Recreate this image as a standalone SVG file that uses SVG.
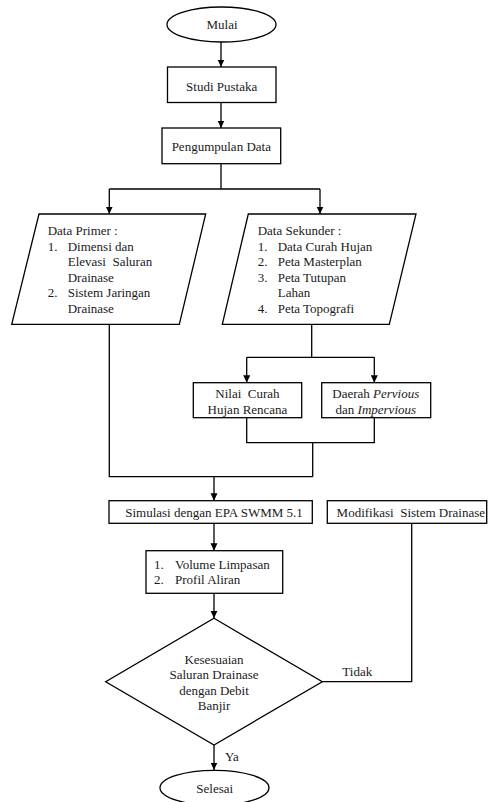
<svg xmlns="http://www.w3.org/2000/svg" width="489" height="802" viewBox="0 0 489 802">
<style>
.s{fill:#fff;stroke:#000;stroke-width:1.3}
.c{fill:none;stroke:#000;stroke-width:1.3}
text{font-family:"Liberation Serif","Times New Roman",serif;font-size:13px;fill:#1a1a1a}
.m{text-anchor:middle}
</style>
<defs>
<marker id="ar" markerUnits="userSpaceOnUse" markerWidth="8" markerHeight="8" refX="7.5" refY="3.5" orient="auto">
<path d="M0,0 L7.5,3.5 L0,7 z" fill="#000"/>
</marker>
</defs>
<rect width="489" height="802" fill="#fff"/>
<g id="connectors">
<path class="c" d="M221,42 V67" marker-end="url(#ar)"/>
<path class="c" d="M221,102.5 V128" marker-end="url(#ar)"/>
<path class="c" d="M221,163.7 V189 M109.3,189 H320"/>
<path class="c" d="M109.3,189 V214" marker-end="url(#ar)"/>
<path class="c" d="M320,189 V214" marker-end="url(#ar)"/>
<path class="c" d="M109.3,324.3 V476.7 H312.7"/>
<path class="c" d="M311.7,324.3 V357.3 M246.7,357.3 H374.3"/>
<path class="c" d="M246.7,357.3 V382.7" marker-end="url(#ar)"/>
<path class="c" d="M374.3,357.3 V382.7" marker-end="url(#ar)"/>
<path class="c" d="M246.7,417.7 V442.7 H374.3 V417.7 M312.7,442.7 V476.7"/>
<path class="c" d="M214,476.7 V500.7" marker-end="url(#ar)"/>
<path class="c" d="M214,523.3 V550.7" marker-end="url(#ar)"/>
<path class="c" d="M214,593.3 V618.3" marker-end="url(#ar)"/>
<path class="c" d="M322.3,681.7 H411.7 V523.3"/>
<path class="c" d="M214,745 V770" marker-end="url(#ar)"/>
<text x="342.3" y="676">Tidak</text>
<text x="225" y="760.5">Ya</text>
</g>
<g id="mulai">
<ellipse class="s" cx="221.5" cy="24.5" rx="54.5" ry="17.5"/>
<text class="m" x="222" y="29">Mulai</text>
</g>
<g id="studi">
<rect class="s" x="167.5" y="67" width="108.5" height="35.5"/>
<text class="m" x="221.7" y="90.5">Studi Pustaka</text>
</g>
<g id="pengumpulan">
<rect class="s" x="162" y="128" width="118.7" height="35.7"/>
<text class="m" x="221.3" y="150.7">Pengumpulan Data</text>
</g>
<g id="primer">
<polygon class="s" points="39,214 205.7,214 179.3,324.3 11.7,324.3"/>
<text x="47.7" y="235">Data Primer :</text>
<text x="47.7" y="250.6">1.</text>
<text x="67.7" y="250.6">Dimensi dan</text>
<text x="67.7" y="266.2" xml:space="preserve">Elevasi  Saluran</text>
<text x="67.7" y="281.8">Drainase</text>
<text x="47.7" y="297.4">2.</text>
<text x="67.7" y="297.4">Sistem Jaringan</text>
<text x="67.7" y="313">Drainase</text>
</g>
<g id="sekunder">
<polygon class="s" points="248.3,214 416,214 389.3,324.3 222.3,324.3"/>
<text x="257.7" y="235">Data Sekunder :</text>
<text x="257.7" y="250.6">1.</text>
<text x="277.7" y="250.6">Data Curah Hujan</text>
<text x="257.7" y="266.2">2.</text>
<text x="277.7" y="266.2">Peta Masterplan</text>
<text x="257.7" y="281.8">3.</text>
<text x="277.7" y="281.8">Peta Tutupan</text>
<text x="277.7" y="297.4">Lahan</text>
<text x="257.7" y="313">4.</text>
<text x="277.7" y="313">Peta Topografi</text>
</g>
<g id="nilai">
<rect class="s" x="193.3" y="382.7" width="108.4" height="35"/>
<text class="m" x="247.5" y="398" xml:space="preserve">Nilai  Curah</text>
<text class="m" x="247.5" y="413.5">Hujan Rencana</text>
</g>
<g id="daerah">
<rect class="s" x="321.7" y="382.7" width="109" height="35"/>
<text class="m" x="375.8" y="398">Daerah <tspan font-style="italic">Pervious</tspan></text>
<text class="m" x="375.8" y="413.5">dan <tspan font-style="italic">Impervious</tspan></text>
</g>
<g id="simulasi">
<rect class="s" x="109" y="500.7" width="203.3" height="22.6"/>
<text class="m" x="214" y="517">Simulasi dengan EPA SWMM 5.1</text>
</g>
<g id="modifikasi">
<rect class="s" x="327.3" y="500.7" width="159.4" height="22.6"/>
<text class="m" x="410.8" y="517" xml:space="preserve">Modifikasi  Sistem Drainase</text>
</g>
<g id="hasil">
<rect class="s" x="146" y="550.7" width="136.7" height="42.6"/>
<text x="154" y="569.3">1.</text>
<text x="175" y="569.3">Volume Limpasan</text>
<text x="154" y="584.3">2.</text>
<text x="175" y="584.3">Profil Aliran</text>
</g>
<g id="kesesuaian">
<polygon class="s" points="214,618.3 322.3,681.7 214,745 105.7,681.7"/>
<text class="m" x="214" y="663.5">Kesesuaian</text>
<text class="m" x="214" y="679">Saluran Drainase</text>
<text class="m" x="214" y="694.5">dengan Debit</text>
<text class="m" x="214" y="710">Banjir</text>
</g>
<g id="selesai">
<ellipse class="s" cx="214.5" cy="787.8" rx="54.5" ry="17.5"/>
<text class="m" x="214.7" y="793">Selesai</text>
</g>
</svg>
